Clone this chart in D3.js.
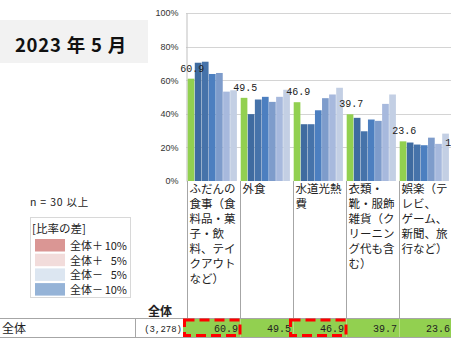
<!DOCTYPE html>
<html><head><meta charset="utf-8">
<script src="https://cdn.jsdelivr.net/npm/d3@7"></script>
<style>body{margin:0;background:#fff}svg{display:block}text{white-space:pre}</style>
</head><body>
<svg id="c" width="451" height="338"></svg>
<script>
const title = "2023 年 5 月";
const categories = ["ふだんの食事", "外食", "水道光熱費", "衣類・靴・服飾雑貨", "娯楽", "次項目"];
const categoryLines = [
  ["ふだんの", "食事（食", "料品・菓", "子・飲", "料、テイ", "クアウト", "など）"],
  ["外食"],
  ["水道光熱", "費"],
  ["衣類・", "靴・服飾", "雑貨（ク", "リーニン", "グ代も含", "む）"],
  ["娯楽（テ", "レビ、", "ゲーム、", "新聞、旅", "行など）"],
  [""]
];
const seriesNames = ["全体", "系列2", "系列3", "系列4", "系列5", "系列6", "系列7"];
const total = [60.9, 49.5, 46.9, 39.7, 23.6, 16.5];
const s2 = [70.4, 39.8, 33.8, 37.6, 22.9, null];
const s3 = [71.0, 48.5, 33.8, 29.6, 21.7, null];
const s4 = [63.7, 50.1, 42.1, 36.6, 21.3, null];
const s5 = [64.3, 47.1, 49.3, 35.8, 25.8, null];
const s6 = [53.2, 50.1, 51.5, 45.9, 22.1, null];
const s7 = [54.0, 54.3, 55.5, 51.5, 28.2, null];
const yTicks = [0, 20, 40, 60, 80, 100];
const totalN = "(3,278)";
const highlighted = ["ふだんの食事", "水道光熱費"];
const legendTitle = "[比率の差]";
const legendLabels = ["全体＋10%", "全体＋5%", "全体－5%", "全体－10%"];
const legendColors = ["#DA9694", "#F2DCDB", "#DCE6F1", "#95B3D7"];
const seriesColors = ["#92D050", "#3F6BA0", "#4673AA", "#4C7FC0", "#7E9CCB", "#A7B9DD", "#C3CFE4"];

const series = [total, s2, s3, s4, s5, s6, s7];
const svg = d3.select("#c");
const jp = "'Noto Sans CJK JP', sans-serif";
const mono = "'Liberation Mono', monospace";

// title box
svg.append("rect").attr("x", 0).attr("y", 20).attr("width", 148).attr("height", 43).attr("fill", "#F2F2F2");
svg.append("text").attr("x", 71).attr("y", 52).attr("text-anchor", "middle")
  .attr("font-family", jp).attr("font-weight", "bold").attr("font-size", 18.5).attr("letter-spacing", 0.8)
  .attr("fill", "#111").text(title);

const x = d3.scaleBand().domain(categories).range([187, 187 + 53 * categories.length]).padding(0);
const xi = d3.scaleBand().domain(seriesNames).range([0.7, 50.3]).padding(0);
const y = d3.scaleLinear().domain([0, 100]).range([181, 13]);

// grid
const grid = svg.append("g");
grid.selectAll("line").data(yTicks.filter(d => d > 0)).join("line")
  .attr("x1", 186).attr("x2", 451).attr("y1", d => Math.round(y(d)) + 0.5).attr("y2", d => Math.round(y(d)) + 0.5)
  .attr("stroke", "#D4D4D4");

// y axis
const yAxis = svg.append("g").attr("transform", "translate(186.5,0)")
  .call(d3.axisLeft(y).tickValues(yTicks).tickFormat(d => d + "%").tickSize(0).tickPadding(8));
yAxis.select(".domain").attr("stroke", "#BFBFBF");
yAxis.selectAll("text").attr("font-family", "'Liberation Sans Narrow', 'Liberation Sans', sans-serif")
  .attr("font-size", 9).attr("fill", "#333");

// bars
const bars = svg.append("g");
series.forEach((vals, si) => {
  bars.append("g").selectAll("rect").data(categories.map((c, i) => ({c, v: vals[i]})).filter(d => d.v != null))
    .join("rect")
    .attr("x", d => x(d.c) + xi(seriesNames[si]))
    .attr("width", xi.bandwidth() - 0.4)
    .attr("y", d => y(d.v))
    .attr("height", d => y(0) - y(d.v))
    .attr("fill", seriesColors[si]);
});

// value labels
svg.append("g").selectAll("text").data(categories.map((c, i) => ({c, v: total[i]})))
  .join("text")
  .attr("x", d => x(d.c) + xi(seriesNames[0]) + xi.bandwidth() / 2 + 1)
  .attr("y", d => y(d.v) - 7)
  .attr("text-anchor", "middle").attr("font-family", mono).attr("font-size", 10).attr("fill", "#222")
  .text(d => d.v.toFixed(1));

// category table
const tbl = svg.append("g");
tbl.selectAll("line.v").data(categories).join("line")
  .attr("x1", d => Math.round(x(d)) + 0.5).attr("x2", d => Math.round(x(d)) + 0.5)
  .attr("y1", 181).attr("y2", 319).attr("stroke", "#A6A6A6");
categories.forEach((c, i) => {
  categoryLines[i].forEach((ln, k) => {
    tbl.append("text").attr("font-family", jp).attr("font-size", 11.5).attr("fill", "#222")
      .attr("x", x(c) + 2.5).attr("y", 193 + k * 15).text(ln);
  });
});

// notes & legend
svg.append("text").attr("x", 30).attr("y", 206).attr("font-family", jp).attr("font-size", 10.5)
  .attr("letter-spacing", 0.8).attr("fill", "#222").text("n = 30 以上");
svg.append("rect").attr("x", 30.5).attr("y", 217.5).attr("width", 100).attr("height", 80)
  .attr("fill", "none").attr("stroke", "#B0B0B0").attr("stroke-dasharray", "1,1");
svg.append("text").attr("x", 32).attr("y", 233).attr("font-family", jp).attr("font-size", 11.5).attr("fill", "#222").text(legendTitle);
const lg = svg.append("g");
legendLabels.forEach((l, i) => {
  const yy = 239 + i * 14.7;
  const m = l.match(/^(.*?[＋－])(.*)$/);
  lg.append("rect").attr("x", 35).attr("y", yy).attr("width", 30).attr("height", 12.5).attr("fill", legendColors[i]);
  lg.append("text").attr("x", 70).attr("y", yy + 11).attr("font-family", jp).attr("font-size", 11).attr("fill", "#222").text(m[1]);
  lg.append("text").attr("x", 127).attr("y", yy + 11).attr("text-anchor", "end").attr("font-family", jp).attr("font-size", 11).attr("fill", "#222").text(m[2]);
});

// total row
svg.append("text").attr("x", 160).attr("y", 316).attr("text-anchor", "middle").attr("font-family", jp)
  .attr("font-size", 12).attr("font-weight", "bold").attr("fill", "#222").text("全体");
svg.append("rect").attr("x", 183).attr("y", 319).attr("width", 268).attr("height", 18).attr("fill", "#92D050");
svg.append("line").attr("x1", 0).attr("x2", 451).attr("y1", 318.5).attr("y2", 318.5).attr("stroke", "#A6A6A6");
svg.append("line").attr("x1", 0).attr("x2", 451).attr("y1", 337.5).attr("y2", 337.5).attr("stroke", "#A6A6A6");
svg.append("line").attr("x1", 135.5).attr("x2", 135.5).attr("y1", 318).attr("y2", 338).attr("stroke", "#A6A6A6");
svg.append("g").selectAll("line").data(categories.slice(1)).join("line")
  .attr("x1", d => Math.round(x(d)) + 0.5).attr("x2", d => Math.round(x(d)) + 0.5)
  .attr("y1", 319).attr("y2", 337).attr("stroke", "#B5DC85");
svg.append("text").attr("x", 2).attr("y", 333).attr("font-family", jp).attr("font-size", 12).attr("fill", "#222").text("全体");
svg.append("text").attr("x", 182).attr("y", 332).attr("text-anchor", "end").attr("font-family", mono)
  .attr("font-size", 9).attr("fill", "#222").text(totalN);
svg.append("g").selectAll("text").data(categories.map((c, i) => ({c, v: total[i]})))
  .join("text")
  .attr("x", d => x(d.c) + x.bandwidth() - 2).attr("y", 332)
  .attr("text-anchor", "end").attr("font-family", mono).attr("font-size", 10).attr("fill", "#222")
  .text(d => d.v.toFixed(1));

// highlight boxes
svg.append("g").selectAll("rect").data(highlighted).join("rect")
  .attr("x", d => x(d) - 2.5).attr("y", 320).attr("width", x.bandwidth() + 2.5).attr("height", 15.5)
  .attr("fill", "none").attr("stroke", "#FF0000").attr("stroke-width", 3).attr("stroke-dasharray", "10,5");
</script>
</body></html>
